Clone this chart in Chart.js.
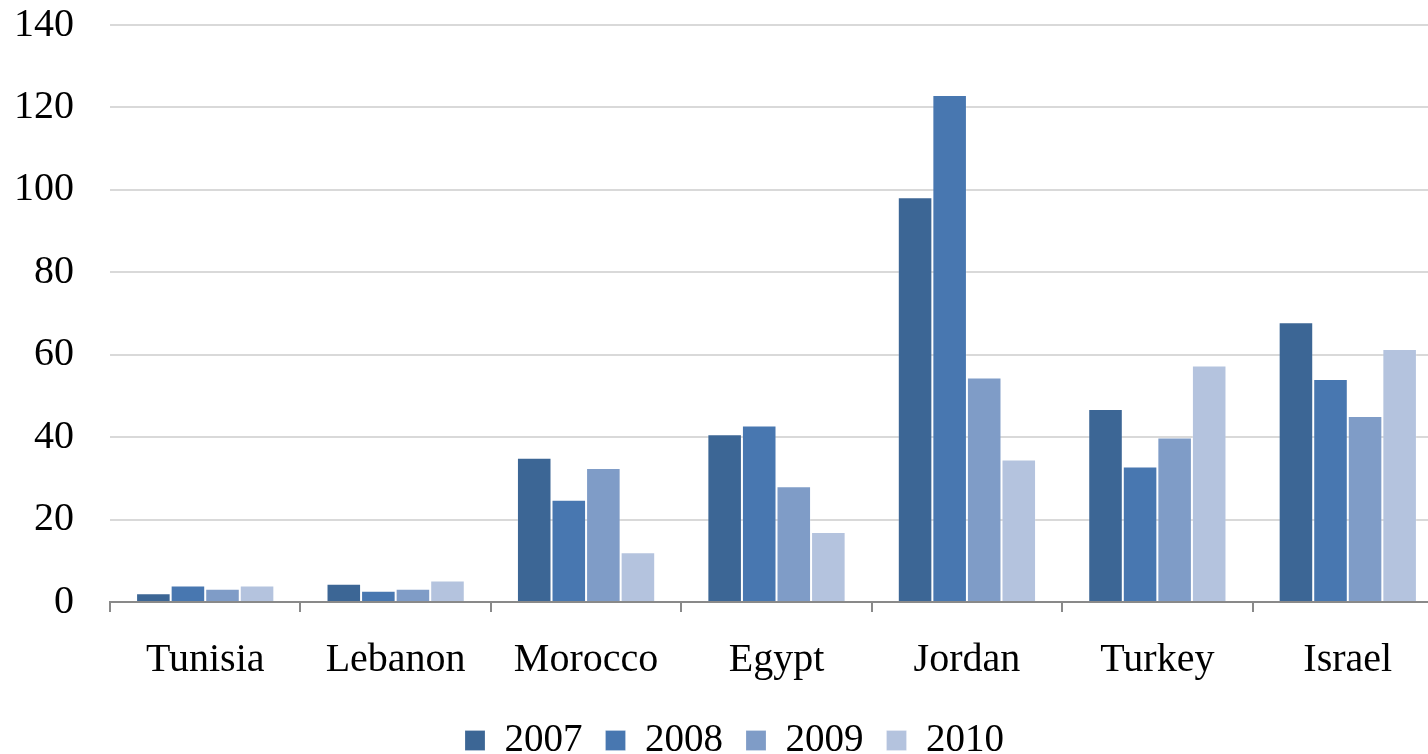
<!DOCTYPE html>
<html>
<head>
<meta charset="utf-8">
<script src="https://cdn.jsdelivr.net/npm/chart.js@4"></script>
<style>
  html, body { margin: 0; padding: 0; background: #fff; overflow: hidden; }
  #wrap { width: 1445px; height: 770px; }
</style>
</head>
<body>
<div id="wrap"><canvas id="grafico" width="1445" height="770"></canvas></div>
<script>
const paises = ['Tunisia', 'Lebanon', 'Morocco', 'Egypt', 'Jordan', 'Turkey', 'Israel'];
const anos = ['2007', '2008', '2009', '2010'];

const v2007 = [2.1, 4.4, 35.0, 40.7, 98.2, 46.8, 67.9];
const v2008 = [4.0, 2.7, 24.8, 42.8, 123.0, 32.9, 54.1];
const v2009 = [3.2, 3.2, 32.5, 28.1, 54.5, 39.9, 45.1];
const v2010 = [4.0, 5.2, 12.1, 17.0, 34.6, 57.4, 61.4];

const cores = ['#3c6695', '#4877b0', '#7f9cc7', '#b4c3de'];
const series = [v2007, v2008, v2009, v2010];

const fonte = 'Liberation Serif, Times New Roman, serif';

// desloca a legenda um pouco para a direita, como no original
const ajusteLegenda = {
  id: 'ajusteLegenda',
  afterLayout(chart) {
    chart.legend.left += 6;
    chart.legend.right += 6;
  }
};

new Chart(document.getElementById('grafico'), {
  type: 'bar',
  data: {
    labels: paises,
    datasets: anos.map((ano, i) => ({
      label: ano,
      data: series[i],
      backgroundColor: cores[i],
      borderColor: 'rgba(255,255,255,0.2)',
      borderWidth: 1,
      categoryPercentage: 0.726,
      barPercentage: 1
    }))
  },
  plugins: [ajusteLegenda],
  options: {
    responsive: false,
    animation: false,
    layout: { padding: { top: 25, left: 14, right: 2, bottom: 0 } },
    plugins: {
      tooltip: { enabled: false },
      legend: {
        position: 'bottom',
        labels: {
          boxWidth: 20,
          boxHeight: 20,
          padding: 23,
          color: '#000',
          font: { family: fonte, size: 39 }
        }
      }
    },
    scales: {
      x: {
        grid: {
          drawOnChartArea: false,
          drawTicks: true,
          tickLength: 10,
          color: '#898989',
          lineWidth: 2
        },
        border: { color: '#898989', width: 2 },
        ticks: {
          color: '#000',
          padding: 24,
          font: { family: fonte, size: 40 }
        },
        afterFit(s) {
          s.height = 96;
          s.paddingLeft = 0;
          s.paddingRight = 0;
        }
      },
      y: {
        min: 0,
        max: 140,
        grid: { color: '#d9d9d9', lineWidth: 2, drawTicks: false },
        border: { display: false },
        ticks: {
          stepSize: 20,
          color: '#000',
          padding: 36,
          font: { family: fonte, size: 40 }
        },
        afterFit(s) {
          s.width = 96;
          s.paddingTop = 0;
          s.paddingBottom = 0;
        }
      }
    }
  }
});
</script>
</body>
</html>
